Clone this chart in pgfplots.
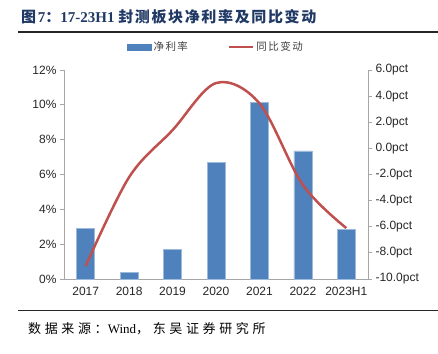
\documentclass[border=0pt]{standalone}
\usepackage{fontspec}
\usepackage{pgfplots}
\pgfplotsset{compat=1.18}
\setmainfont{Liberation Serif}
\newfontfamily\cjk{Noto Sans CJK SC}
\newfontfamily\cjkls[LetterSpace=14]{Noto Sans CJK SC}
\newfontfamily\arial{Liberation Sans}
\definecolor{barblue}{HTML}{4F81BD}
\definecolor{linered}{HTML}{C0504D}
\definecolor{titleblue}{HTML}{1F3864}
\definecolor{axgray}{HTML}{A6A6A6}
\begin{document}
\begin{tikzpicture}
\useasboundingbox (0,0) rectangle (438bp,354bp);
% title
\node[anchor=base west, inner sep=0pt, text=titleblue] at (21bp,331bp)
  {\fontsize{15bp}{15bp}\selectfont{\cjk\bfseries\addfontfeature{LetterSpace=11} 图}\textbf{7}{\cjk\bfseries ：}\textbf{17-23H1} {\cjk\bfseries\addfontfeature{LetterSpace=11}封测板块净利率及同比变动}};
\draw[line width=1.5bp, black!85] (18bp,322bp) -- (438bp,322bp);
\draw[line width=1bp, black!85] (18bp,43bp) -- (438bp,43bp);
\node[anchor=base west, inner sep=0pt] at (28bp,21bp)
  {\fontsize{13bp}{13bp}\selectfont{\cjk\addfontfeature{LetterSpace=28} 数据来源：}Wind{\cjk\addfontfeature{LetterSpace=28}，东吴证券研究所}};

\begin{axis}[
  at={(64bp,75bp)}, anchor=south west,
  scale only axis, width=304bp, height=209bp,
  xmin=-0.5, xmax=6.5, ymin=0, ymax=12,
  axis y line*=left, axis x line*=bottom,
  axis line style={axgray, line width=0.8bp},
  xtick={0,...,6},
  xticklabels={2017,2018,2019,2020,2021,2022,2023H1},
  x tick style={draw=none},
  extra x ticks={-0.5,0.5,...,6.5},
  extra x tick labels={},
  extra x tick style={tick style={draw=axgray, line width=0.8bp}, major tick length=4bp},
  ytick={0,2,...,12},
  yticklabel={\pgfmathprintnumber{\tick}\%},
  y tick style={draw=axgray, line width=0.8bp},
  tick align=outside, major tick length=4bp,
  /pgf/number format/assume math mode=true,
  ticklabel style={font=\arial\fontsize{12bp}{12bp}\selectfont, text=black!85},
  xticklabel style={yshift=-1bp},
  clip=false,
]
\addplot[ybar, bar width=18bp, fill=barblue, draw=barblue!55!white, line width=0.5bp]
  coordinates {(0,2.9) (1,0.4) (2,1.7) (3,6.7) (4,10.15) (5,7.35) (6,2.85)};
\end{axis}

\begin{axis}[
  at={(64bp,75bp)}, anchor=south west,
  scale only axis, width=304bp, height=209bp,
  xmin=-0.5, xmax=6.5, ymin=-10, ymax=6,
  axis y line*=right, axis x line=none,
  axis line style={axgray, line width=0.8bp},
  ytick={-10,-8,...,6},
  yticklabel={\pgfmathprintnumber[fixed,fixed zerofill,precision=1]{\tick}pct},
  y tick style={draw=axgray, line width=0.8bp},
  tick align=outside, major tick length=4bp,
  /pgf/number format/assume math mode=true,
  ticklabel style={font=\arial\fontsize{12bp}{12bp}\selectfont, text=black!85},
  legend columns=2,
  legend style={draw=none, fill=none, at={(0.5,1.11)}, anchor=center,
    font=\cjkls\fontsize{10.5bp}{10.5bp}\selectfont, text=black!75,
    /tikz/every even column/.append style={column sep=38bp},
    inner sep=0pt},
  legend cell align=left,
  clip=false,
]
\addlegendimage{legend image code/.code={\fill[barblue] (0bp,-3bp) rectangle (24bp,3bp);}}
\addlegendentry{净利率}
\addplot[linered, line width=2.5bp, smooth, tension=0.55, no markers,
  legend image code/.code={\draw[linered, line width=2.5bp] (0bp,0bp) -- (24bp,0bp);}]
  coordinates {(0,-9.0) (1,-2.2) (2,1.4) (3,5.0) (4,3.45) (5,-2.8) (6,-6.1)};
\addlegendentry{同比变动}
\end{axis}
\end{tikzpicture}
\end{document}
